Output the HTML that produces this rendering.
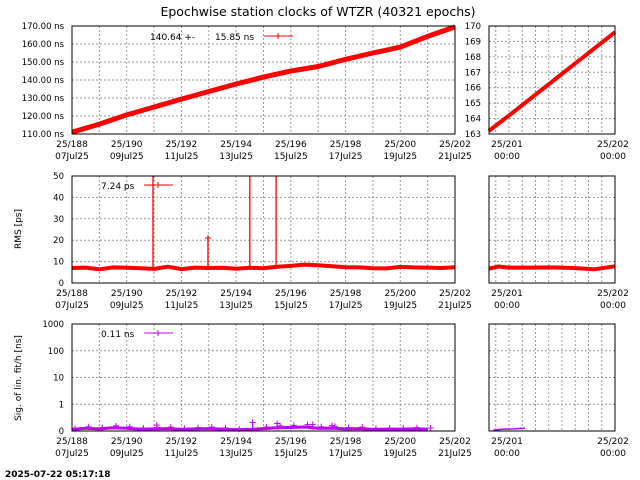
<!DOCTYPE html>
<html><head><meta charset="utf-8"><style>
html,body{margin:0;padding:0;background:#fff}
svg{display:block;font-family:"DejaVu Sans","Liberation Sans",sans-serif}
</style></head><body>
<svg id="c" width="640" height="480" viewBox="0 0 640 480" xmlns="http://www.w3.org/2000/svg">
<text x="318" y="16" font-size="12.5" text-anchor="middle">Epochwise station clocks of WTZR (40321 epochs)</text>
<g id="g"></g>
<text transform="translate(21,229) rotate(-90)" font-size="9" text-anchor="middle">RMS [ps]</text>
<text transform="translate(21,378) rotate(-90)" font-size="9" text-anchor="middle">Sig. of lin. fit/h [ns]</text>
<text x="5" y="477" font-size="9" font-weight="bold">2025-07-22 05:17:18</text>
</svg>
<script>
// ---- data ----
const clockDays = [188,189,190,191,192,193,194,195,196,197,198,199,200,201,202];
const clockNs = [111,115.5,120.6,125,129.4,133.6,137.8,141.6,145,147.5,151.5,155,158.3,164.2,169.5];
const zoomDays = [200.81,201,201.5,202];
const zoomNs = [163.2,164.2,166.9,169.6];
const rmsDays = [188,188.5,189,189.5,190,190.5,191,191.5,192,192.5,193,193.5,194,194.5,195,195.5,196,196.5,197,197.5,198,198.5,199,199.5,200,200.5,201,201.5,202];
const rmsPs = [7,7.2,6.4,7.3,7.1,6.9,6.6,7.6,6.5,7.2,7,7.1,6.7,7.1,6.9,7.6,8,8.6,8.3,7.8,7.4,7.3,6.9,6.8,7.5,7.3,7.2,7,7.4];
const rmsZoomDays = [200.81,200.9,201,201.2,201.4,201.6,201.8,202];
const rmsZoomPs = [6.7,7.7,7.2,7.2,7.3,7.0,6.4,7.8];
const spikeDays = [190.96,192.97,194.5,195.46];
const spikePs = [60,21,60,60];
const sigDays = [188,188.5,189,189.5,190,190.5,191,191.5,192,192.5,193,193.5,194,194.5,195,195.5,196,196.5,197,197.5,198,198.5,199,199.5,200,200.5,201];
const sigNs = [0.06,0.1,0.08,0.12,0.1,0.07,0.08,0.09,0.06,0.08,0.09,0.07,0.05,0.06,0.09,0.12,0.13,0.15,0.1,0.11,0.08,0.09,0.06,0.07,0.07,0.08,0.07];
const sigSpikeDays = [191.1,194.6,195.5,196.8,197.5];
const sigSpikeNs = [0.22,0.32,0.28,0.25,0.2];
const sigZoomDays = [200.85,200.95,201.05,201.15];
const sigZoomNs = [0.03,0.07,0.08,0.11];
const mainTicks = ["25/188","25/190","25/192","25/194","25/196","25/198","25/200","25/202"];
const mainDates = ["07Jul25","09Jul25","11Jul25","13Jul25","15Jul25","17Jul25","19Jul25","21Jul25"];
const clockTicks = [110,120,130,140,150,160,170];
const zoomTicks = [163,164,165,166,167,168,169,170];
const rmsTicks = [0,10,20,30,40,50];
const sigTicks = [0,1,10,100,1000];

// ---- scales ----
const L=72,R=455,ZL=489,ZR=615;
const xd=d=>L+(d-188)*(R-L)/14;
const xz=d=>509+(d-201)*106;
const P=[{t:26,b:134},{t:176,b:283},{t:324,b:431}];
const yClock=v=>134-(v-110)*108/60;
const yZoom=v=>134-(v-163)*108/7;
const yRms=v=>Math.max(176,283-v*107/50);
const ySig=v=>{const b=431,s=26.75;return v<1?b-v*s:b-s*(1+Math.log10(v));};

const NS="http://www.w3.org/2000/svg",G=document.getElementById('g');
function el(tag,a,p){const e=document.createElementNS(NS,tag);for(const k in a)e.setAttribute(k,a[k]);(p||G).appendChild(e);return e;}
function txt(x,y,s,anchor,size){const e=el('text',{x:x,y:y,'font-size':size||9,'text-anchor':anchor||'middle'});e.textContent=s;return e;}

function frame(x0,x1,p,name){
  const r=el('rect',{x:x0,y:p.t,width:x1-x0,height:p.b-p.t,fill:'none',stroke:'#000','stroke-width':1});
  
  
}
function vgrid(x,p){el('line',{x1:x,x2:x,y1:p.t,y2:p.b,stroke:'#999','stroke-dasharray':'2,2','stroke-width':1});}
function hgrid(y,x0,x1){el('line',{x1:x0,x2:x1,y1:y,y2:y,stroke:'#999','stroke-dasharray':'2,2','stroke-width':1});}

P.forEach((p,i)=>{
  for(let d=189;d<202;d++) vgrid(xd(d),p);
  for(let k=-1;k<8;k++){const x=xz(201)+k*13.25;if(x>ZL+1&&x<ZR-1)vgrid(x,p);}
  mainTicks.forEach((s,j)=>{
    const t=txt(xd(188+2*j),p.b+13,s);
    
    
    txt(xd(188+2*j),p.b+25,mainDates[j]);
  });
  txt(507,p.b+13,"25/201");txt(507,p.b+25,"00:00");
  txt(613,p.b+13,"25/202");txt(613,p.b+25,"00:00");
});
// y grids & ticks
clockTicks.forEach(v=>{const y=yClock(v);if(v>110&&v<170)hgrid(y,L,R);txt(L-8,y+3,v.toFixed(2)+" ns",'end',8.5);});
zoomTicks.forEach(v=>{const y=yZoom(v);if(v>163&&v<170)hgrid(y,ZL,ZR);txt(ZL-8,y+3,String(v),'end',8.5);});
rmsTicks.forEach(v=>{const y=yRms(v);if(v>0&&v<50){hgrid(y,L,R);hgrid(y,ZL,ZR);}txt(L-8,y+3,String(v),'end',8.5);});
sigTicks.forEach(v=>{const y=ySig(v);if(v>0&&v<1000){hgrid(y,L,R);hgrid(y,ZL,ZR);}txt(L-8,y+3,String(v),'end',8.5);});

function line(xs,ys,fx,fy,col,w,name){
  const pts=xs.map((d,i)=>fx(d).toFixed(1)+","+fy(ys[i]).toFixed(1)).join(" ");
  const e=el('polyline',{points:pts,fill:'none',stroke:col,'stroke-width':w,'stroke-linejoin':'round'});
  
  
}
function cross(x,y,col,s){el('path',{d:`M${x-s},${y}h${2*s}M${x},${y-s}v${2*s}`,stroke:col,'stroke-width':1,fill:'none'});}

const RED='#f00',MAG='#c000ff';
line(clockDays,clockNs,xd,yClock,RED,5,'clock-series');
line(zoomDays,zoomNs,xz,yZoom,RED,4,'clock-zoom-series');
line(rmsDays,rmsPs,xd,yRms,RED,4,'rms-series');
line(rmsZoomDays,rmsZoomPs,xz,yRms,RED,4,'rms-zoom-series');
spikeDays.forEach((d,i)=>{
  const s=el('line',{x1:xd(d),x2:xd(d),y1:yRms(7),y2:yRms(spikePs[i]),stroke:RED,'stroke-width':1.3});
  
  
  if(spikePs[i]<50)cross(xd(d),yRms(spikePs[i]),RED,3);
});
line(sigDays,sigNs,xd,ySig,MAG,3,'sig-series');
sigDays.forEach((d,i)=>cross(xd(d)+3,ySig(sigNs[i]*1.6),MAG,3));
sigSpikeDays.forEach((d,i)=>{
  el('line',{x1:xd(d),x2:xd(d),y1:ySig(0.05),y2:ySig(sigSpikeNs[i]),stroke:MAG,'stroke-width':1});
  cross(xd(d),ySig(sigSpikeNs[i]),MAG,3);
});
line(sigZoomDays,sigZoomNs,xz,ySig,MAG,1.5,'sig-zoom-series');

frame(L,R,P[0],'clock-plot');frame(ZL,ZR,P[0],'clock-zoom-plot');
frame(L,R,P[1],'rms-plot');frame(ZL,ZR,P[1],'rms-zoom-plot');
frame(L,R,P[2],'sig-plot');frame(ZL,ZR,P[2],'sig-zoom-plot');

// legends
txt(150,40,"140.64 +-",'start');txt(215,40,"15.85 ns",'start');
el('line',{x1:264,x2:293,y1:36,y2:36,stroke:RED});cross(278,36,RED,3);
txt(101,189,"7.24 ps",'start');
el('line',{x1:144,x2:173,y1:185,y2:185,stroke:RED});cross(158,185,RED,3);
txt(101,337,"0.11 ns",'start');
el('line',{x1:144,x2:173,y1:333,y2:333,stroke:MAG});cross(158,333,MAG,3);
</script>
</body></html>
